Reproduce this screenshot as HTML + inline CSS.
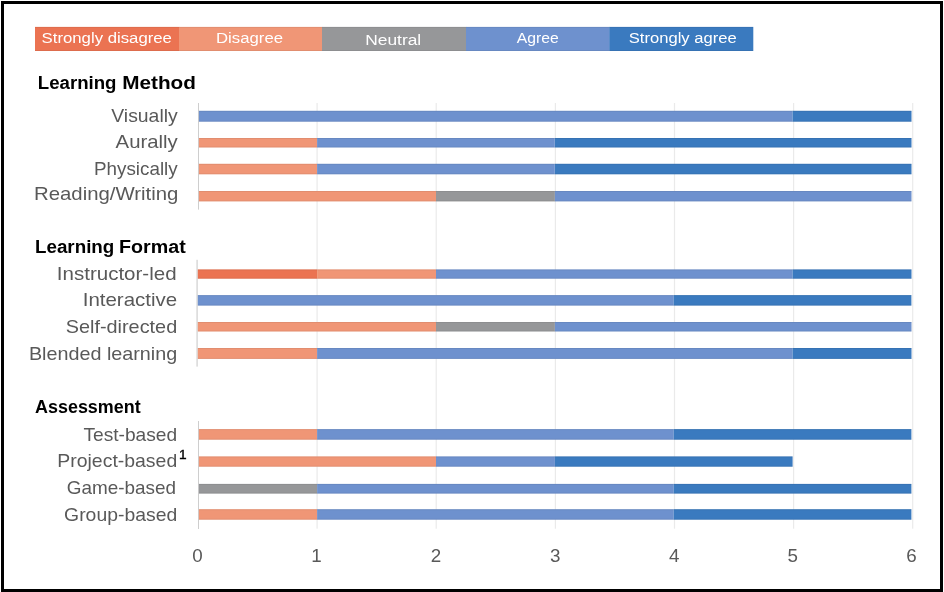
<!DOCTYPE html>
<html lang="en"><head><meta charset="utf-8"><title>Learning preferences chart</title>
<style>html,body{margin:0;padding:0;background:#fff}body{width:944px;height:592px;overflow:hidden}svg{display:block}text{font-family:"Liberation Sans",sans-serif}.lg{font-size:15.45px;fill:#fff}.h{font-size:18.9px;font-weight:bold;fill:#000}.c{font-size:19px;fill:#595959}.t{font-size:18.8px;fill:#595959}</style></head><body>
<svg width="944" height="592" viewBox="0 0 944 592">
<rect x="0" y="0" width="944" height="592" fill="#fff"/>
<rect x="2.5" y="2.5" width="939" height="588" fill="none" stroke="#000" stroke-width="3"/>
<rect x="35" y="26.9" width="144.3" height="24.1" fill="#EB7352"/>
<rect x="35" y="26.9" width="144.0" height="1" fill="#000" opacity="0.06"/>
<rect x="35" y="50" width="144.0" height="1" fill="#000" opacity="0.06"/>
<rect x="179" y="26.9" width="143.3" height="24.1" fill="#F09676"/>
<rect x="179" y="26.9" width="143.0" height="1" fill="#000" opacity="0.06"/>
<rect x="179" y="50" width="143.0" height="1" fill="#000" opacity="0.06"/>
<rect x="322" y="26.9" width="144.3" height="24.1" fill="#969799"/>
<rect x="322" y="26.9" width="144.0" height="1" fill="#000" opacity="0.06"/>
<rect x="322" y="50" width="144.0" height="1" fill="#000" opacity="0.06"/>
<rect x="466" y="26.9" width="143.6" height="24.1" fill="#6E91CE"/>
<rect x="466" y="26.9" width="143.3" height="1" fill="#000" opacity="0.06"/>
<rect x="466" y="50" width="143.3" height="1" fill="#000" opacity="0.06"/>
<rect x="609.3" y="26.9" width="144.0" height="24.1" fill="#3A7ABF"/>
<rect x="609.3" y="26.9" width="143.7" height="1" fill="#000" opacity="0.06"/>
<rect x="609.3" y="50" width="143.7" height="1" fill="#000" opacity="0.06"/>
<text class="lg" x="41.6" y="43.2" textLength="130.3" lengthAdjust="spacingAndGlyphs">Strongly disagree</text>
<text class="lg" x="216" y="43.3" textLength="67" lengthAdjust="spacingAndGlyphs">Disagree</text>
<text class="lg" x="365.2" y="44.6" textLength="56" lengthAdjust="spacingAndGlyphs">Neutral</text>
<text class="lg" x="516.8" y="43.3" textLength="42" lengthAdjust="spacingAndGlyphs">Agree</text>
<text class="lg" x="628.8" y="43.4" textLength="107.9" lengthAdjust="spacingAndGlyphs">Strongly agree</text>
<rect x="316.5" y="103" width="1.2" height="425.7" fill="#EAEAEA"/>
<rect x="435.6" y="103" width="1.2" height="425.7" fill="#EAEAEA"/>
<rect x="554.8" y="103" width="1.2" height="425.7" fill="#EAEAEA"/>
<rect x="673.9" y="103" width="1.2" height="425.7" fill="#EAEAEA"/>
<rect x="793.0" y="103" width="1.2" height="425.7" fill="#EAEAEA"/>
<rect x="912.1" y="103" width="1.2" height="425.7" fill="#EAEAEA"/>
<rect x="198.0" y="103" width="1" height="106.6" fill="#CECECE"/>
<rect x="198.9" y="110.8" width="593.7" height="10.9" fill="#6E91CE"/>
<rect x="792.6" y="110.8" width="118.9" height="10.9" fill="#3A7ABF"/>
<rect x="198.9" y="110.8" width="712.6" height="1" fill="#000" opacity="0.06"/>
<rect x="198.9" y="120.7" width="712.6" height="1" fill="#000" opacity="0.06"/>
<rect x="198.9" y="138.0" width="118.2" height="9.5" fill="#F09676"/>
<rect x="317.1" y="138.0" width="237.7" height="9.5" fill="#6E91CE"/>
<rect x="554.9" y="138.0" width="356.6" height="9.5" fill="#3A7ABF"/>
<rect x="198.9" y="138.0" width="712.6" height="1" fill="#000" opacity="0.06"/>
<rect x="198.9" y="146.5" width="712.6" height="1" fill="#000" opacity="0.06"/>
<rect x="198.9" y="163.8" width="118.2" height="10.5" fill="#F09676"/>
<rect x="317.1" y="163.8" width="237.7" height="10.5" fill="#6E91CE"/>
<rect x="554.9" y="163.8" width="356.6" height="10.5" fill="#3A7ABF"/>
<rect x="198.9" y="163.8" width="712.6" height="1" fill="#000" opacity="0.06"/>
<rect x="198.9" y="173.3" width="712.6" height="1" fill="#000" opacity="0.06"/>
<rect x="198.9" y="191.0" width="237.1" height="10.4" fill="#F09676"/>
<rect x="436.0" y="191.0" width="118.9" height="10.4" fill="#969799"/>
<rect x="554.9" y="191.0" width="356.6" height="10.4" fill="#6E91CE"/>
<rect x="198.9" y="191.0" width="712.6" height="1" fill="#000" opacity="0.06"/>
<rect x="198.9" y="200.4" width="712.6" height="1" fill="#000" opacity="0.06"/>
<rect x="196.4" y="259.8" width="1.4" height="106.8" fill="#D6D6D6"/>
<rect x="197.8" y="269.4" width="119.3" height="9.3" fill="#EB7352"/>
<rect x="317.1" y="269.4" width="118.9" height="9.3" fill="#F09676"/>
<rect x="436.0" y="269.4" width="356.6" height="9.3" fill="#6E91CE"/>
<rect x="792.6" y="269.4" width="118.9" height="9.3" fill="#3A7ABF"/>
<rect x="197.9" y="269.4" width="713.6" height="1" fill="#000" opacity="0.06"/>
<rect x="197.9" y="277.7" width="713.6" height="1" fill="#000" opacity="0.06"/>
<rect x="197.8" y="295.1" width="475.9" height="10.5" fill="#6E91CE"/>
<rect x="673.7" y="295.1" width="237.7" height="10.5" fill="#3A7ABF"/>
<rect x="197.9" y="295.1" width="713.6" height="1" fill="#000" opacity="0.06"/>
<rect x="197.9" y="304.6" width="713.6" height="1" fill="#000" opacity="0.06"/>
<rect x="197.8" y="322.0" width="238.2" height="9.5" fill="#F09676"/>
<rect x="436.0" y="322.0" width="118.9" height="9.5" fill="#969799"/>
<rect x="554.9" y="322.0" width="356.6" height="9.5" fill="#6E91CE"/>
<rect x="197.9" y="322.0" width="713.6" height="1" fill="#000" opacity="0.06"/>
<rect x="197.9" y="330.5" width="713.6" height="1" fill="#000" opacity="0.06"/>
<rect x="197.8" y="348.0" width="119.3" height="10.9" fill="#F09676"/>
<rect x="317.1" y="348.0" width="475.5" height="10.9" fill="#6E91CE"/>
<rect x="792.6" y="348.0" width="118.9" height="10.9" fill="#3A7ABF"/>
<rect x="197.9" y="348.0" width="713.6" height="1" fill="#000" opacity="0.06"/>
<rect x="197.9" y="357.9" width="713.6" height="1" fill="#000" opacity="0.06"/>
<rect x="198.0" y="421" width="1" height="108.0" fill="#CECECE"/>
<rect x="198.9" y="429.1" width="118.2" height="10.6" fill="#F09676"/>
<rect x="317.1" y="429.1" width="356.6" height="10.6" fill="#6E91CE"/>
<rect x="673.7" y="429.1" width="237.7" height="10.6" fill="#3A7ABF"/>
<rect x="198.9" y="429.1" width="712.6" height="1" fill="#000" opacity="0.06"/>
<rect x="198.9" y="438.7" width="712.6" height="1" fill="#000" opacity="0.06"/>
<rect x="198.9" y="456.4" width="237.1" height="10.3" fill="#F09676"/>
<rect x="436.0" y="456.4" width="118.9" height="10.3" fill="#6E91CE"/>
<rect x="554.9" y="456.4" width="237.7" height="10.3" fill="#3A7ABF"/>
<rect x="198.9" y="456.4" width="593.7" height="1" fill="#000" opacity="0.06"/>
<rect x="198.9" y="465.7" width="593.7" height="1" fill="#000" opacity="0.06"/>
<rect x="198.9" y="483.9" width="118.2" height="9.7" fill="#969799"/>
<rect x="317.1" y="483.9" width="356.6" height="9.7" fill="#6E91CE"/>
<rect x="673.7" y="483.9" width="237.7" height="9.7" fill="#3A7ABF"/>
<rect x="198.9" y="483.9" width="712.6" height="1" fill="#000" opacity="0.06"/>
<rect x="198.9" y="492.6" width="712.6" height="1" fill="#000" opacity="0.06"/>
<rect x="198.9" y="509.2" width="118.2" height="10.5" fill="#F09676"/>
<rect x="317.1" y="509.2" width="356.6" height="10.5" fill="#6E91CE"/>
<rect x="673.7" y="509.2" width="237.7" height="10.5" fill="#3A7ABF"/>
<rect x="198.9" y="509.2" width="712.6" height="1" fill="#000" opacity="0.06"/>
<rect x="198.9" y="518.7" width="712.6" height="1" fill="#000" opacity="0.06"/>
<text class="h" y="88.6"><tspan x="37.8" textLength="78.7" lengthAdjust="spacingAndGlyphs">Learning</tspan> <tspan x="122.2" textLength="73.7" lengthAdjust="spacingAndGlyphs">Method</tspan></text>
<text class="h" y="253"><tspan x="35.0" textLength="79.3" lengthAdjust="spacingAndGlyphs">Learning</tspan> <tspan x="119.0" textLength="66.7" lengthAdjust="spacingAndGlyphs">Format</tspan></text>
<text class="h" y="413"><tspan x="35.0" textLength="105.7" lengthAdjust="spacingAndGlyphs">Assessment</tspan></text>
<text class="c" x="111.3" y="121.6" textLength="66.4" lengthAdjust="spacingAndGlyphs">Visually</text>
<text class="c" x="115.6" y="147.5" textLength="62.1" lengthAdjust="spacingAndGlyphs">Aurally</text>
<text class="c" x="94.0" y="174.5" textLength="83.7" lengthAdjust="spacingAndGlyphs">Physically</text>
<text class="c" x="34.0" y="200.2" textLength="144.4" lengthAdjust="spacingAndGlyphs">Reading/Writing</text>
<text class="c" x="56.8" y="280.3" textLength="119.8" lengthAdjust="spacingAndGlyphs">Instructor-led</text>
<text class="c" x="82.7" y="305.7" textLength="94.5" lengthAdjust="spacingAndGlyphs">Interactive</text>
<text class="c" x="65.7" y="332.8" textLength="111.5" lengthAdjust="spacingAndGlyphs">Self-directed</text>
<text class="c" x="28.9" y="359.7" textLength="148.3" lengthAdjust="spacingAndGlyphs">Blended learning</text>
<text class="c" x="83.4" y="440.8" textLength="93.8" lengthAdjust="spacingAndGlyphs">Test-based</text>
<text class="c" x="57.3" y="467" textLength="119.9" lengthAdjust="spacingAndGlyphs">Project-based</text>
<text class="c" x="66.7" y="493.6" textLength="109.3" lengthAdjust="spacingAndGlyphs">Game-based</text>
<text class="c" x="64.1" y="520.7" textLength="113.1" lengthAdjust="spacingAndGlyphs">Group-based</text>
<text x="178.9" y="459.1" style="font-size:12px;fill:#000;stroke:#000;stroke-width:0.35px" textLength="7.6" lengthAdjust="spacingAndGlyphs">1</text>
<text class="t" x="197.6" y="561.9" text-anchor="middle">0</text>
<text class="t" x="316.6" y="561.9" text-anchor="middle">1</text>
<text class="t" x="436.0" y="561.9" text-anchor="middle">2</text>
<text class="t" x="555.2" y="561.9" text-anchor="middle">3</text>
<text class="t" x="674.3" y="561.9" text-anchor="middle">4</text>
<text class="t" x="792.7" y="561.9" text-anchor="middle">5</text>
<text class="t" x="911.6" y="561.9" text-anchor="middle">6</text>
</svg></body></html>
